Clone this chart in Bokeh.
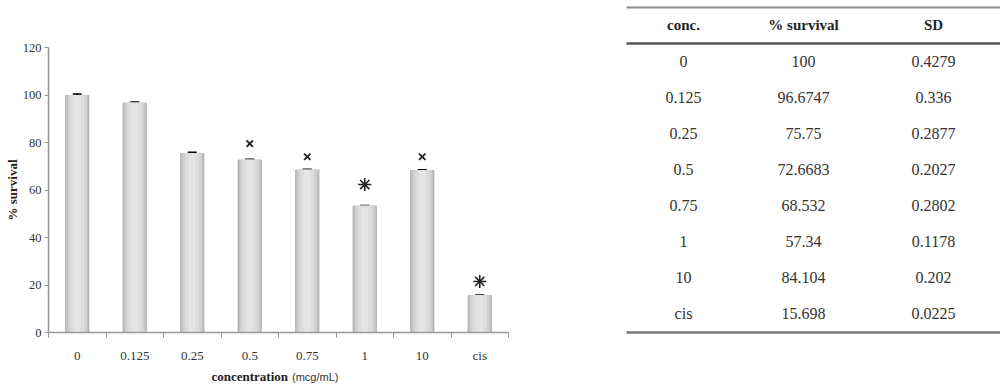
from bokeh.plotting import figure
from bokeh.layouts import row, column
from bokeh.models import Range1d, FixedTicker, Whisker, TeeHead, ColumnDataSource
from bokeh.core.properties import value
from bokeh.embed import file_html
from bokeh.resources import INLINE

# ---- data ----
categories = ["0", "0.125", "0.25", "0.5", "0.75", "1", "10", "cis"]
bar_values = [100, 96.7, 75.6, 72.7, 68.5, 53.4, 68.3, 15.7]
bar_sd = [0.4279, 0.336, 0.2877, 0.2027, 0.2802, 0.1178, 0.202, 0.0225]
x_mark_cats = ["0.5", "0.75", "10"]
x_mark_y = [79.5, 74.0, 74.0]
star_mark_cats = ["1", "cis"]
star_mark_y = [62.3, 21.5]
y_ticks = [0, 20, 40, 60, 80, 100, 120]

table_header = ["conc.", "% survival", "SD"]
table_conc = ["0", "0.125", "0.25", "0.5", "0.75", "1", "10", "cis"]
table_survival = ["100", "96.6747", "75.75", "72.6683", "68.532", "57.34", "84.104", "15.698"]
table_sd = ["0.4279", "0.336", "0.2877", "0.2027", "0.2802", "0.1178", "0.202", "0.0225"]

SERIF = "Liberation Serif"

# ---- chart ----
n = len(categories)
xs = [i + 0.5 for i in range(n)]
xr = Range1d(0, n)
p = figure(width=600, height=365, x_range=xr, y_range=Range1d(0, 120),
           output_backend="svg", toolbar_location=None,
           min_border_left=48, min_border_right=92, min_border_top=47, min_border_bottom=33)
p.outline_line_color = None
p.xgrid.grid_line_color = None
p.ygrid.grid_line_color = None

# bars with simulated horizontal gradient
for w, c in [(0.42, "#a9a9a9"), (0.39, "#c2c2c2"), (0.33, "#d2d2d2"), (0.24, "#dddddd"), (0.12, "#e4e4e4")]:
    p.vbar(x=xs, top=bar_values, width=w, fill_color=c, line_color=None)

src = ColumnDataSource(dict(x=xs,
                            upper=[v + s for v, s in zip(bar_values, bar_sd)],
                            lower=[v - s for v, s in zip(bar_values, bar_sd)]))
wh = Whisker(base="x", upper="upper", lower="lower", source=src, line_color="black", line_width=3,
             upper_head=TeeHead(size=9, line_color="black", line_width=1.5),
             lower_head=TeeHead(size=9, line_color="black", line_width=1.5))
p.add_layout(wh)

idx = {c: i for i, c in enumerate(categories)}
p.scatter(x=[idx[c] + 0.5 for c in x_mark_cats], y=x_mark_y, marker="x", size=9,
          line_color="#222222", line_width=1.8)
p.scatter(x=[idx[c] + 0.5 for c in star_mark_cats], y=star_mark_y, marker="asterisk", size=13,
          line_color="#222222", line_width=1.6)

ax = p.xaxis[0]
ax.ticker = FixedTicker(ticks=xs, minor_ticks=list(range(n + 1)))
ax.major_label_overrides = {x: c for x, c in zip(xs, categories)}
ax.major_tick_line_color = None
ax.minor_tick_line_color = "#999999"
ax.minor_tick_out = 5
ax.minor_tick_in = 0
ax.axis_line_color = "#999999"
ax.axis_line_width = 1.5
ax.major_label_text_font = SERIF
ax.major_label_text_font_size = "13px"
ax.major_label_text_color = "#333333"
ax.major_label_standoff = 9

ay = p.yaxis[0]
ay.ticker = FixedTicker(ticks=y_ticks)
ay.major_tick_line_color = "#999999"
ay.major_tick_out = 4
ay.major_tick_in = 0
ay.axis_line_color = "#999999"
ay.axis_line_width = 1.5
ay.major_label_text_font = SERIF
ay.major_label_text_font_size = "12.5px"
ay.major_label_text_color = "#333333"
ay.major_label_standoff = 3
ay.axis_label = "% survival"
ay.axis_label_text_font = SERIF
ay.axis_label_text_font_style = "bold"
ay.axis_label_text_font_size = "13px"
ay.axis_label_text_color = "#222222"
ay.axis_label_standoff = 0

# x-axis title strip (two fonts)
lab = figure(width=600, height=22, x_range=xr, y_range=Range1d(0, 1),
             output_backend="svg", toolbar_location=None,
             min_border_left=48, min_border_right=92, min_border_top=0, min_border_bottom=0)
lab.axis.visible = False
lab.grid.grid_line_color = None
lab.outline_line_color = None
lab.text(x=[4.2], y=[0.5], text=["concentration"], text_align="right", x_offset=-2,
         text_baseline="middle", text_font=value(SERIF), text_font_style="bold",
         text_font_size="13px", text_color="#222222")
lab.text(x=[4.2], y=[0.5], text=["(mcg/mL)"], text_align="left", x_offset=2,
         text_baseline="middle", text_font=value("Liberation Sans"),
         text_font_size="11px", text_color="#333333")

# ---- table ----
n_rows = len(table_conc)
t = figure(width=400, height=387, x_range=Range1d(0, 400), y_range=Range1d(10.056, -0.694),
           output_backend="svg", toolbar_location=None,
           min_border_left=0, min_border_right=0, min_border_top=0, min_border_bottom=0)
t.axis.visible = False
t.grid.grid_line_color = None
t.outline_line_color = None

col_x = [83, 203, 333]
rows_y = [i + 1 for i in range(n_rows)]
t.text(x=col_x, y=[0, 0, 0], text=table_header, text_align="center", text_baseline="middle",
       text_font=value(SERIF), text_font_style="bold", text_font_size="15px", text_color="#222222")
for cx, col in zip(col_x, [table_conc, table_survival, table_sd]):
    t.text(x=[cx] * n_rows, y=rows_y, text=col, text_align="center", text_baseline="middle",
           text_font=value(SERIF), text_font_size="16px", text_color="#333333")

t.segment(x0=[26], y0=[-0.5], x1=[400], y1=[-0.5], line_color="#8a8a8a", line_width=2)
t.segment(x0=[26], y0=[0.5], x1=[400], y1=[0.5], line_color="#555555", line_width=2.5)
t.segment(x0=[26], y0=[n_rows + 0.53], x1=[400], y1=[n_rows + 0.53], line_color="#777777", line_width=2.5)

layout = row(column(p, lab), t)
open("out.html", "w").write(file_html(layout, INLINE))
